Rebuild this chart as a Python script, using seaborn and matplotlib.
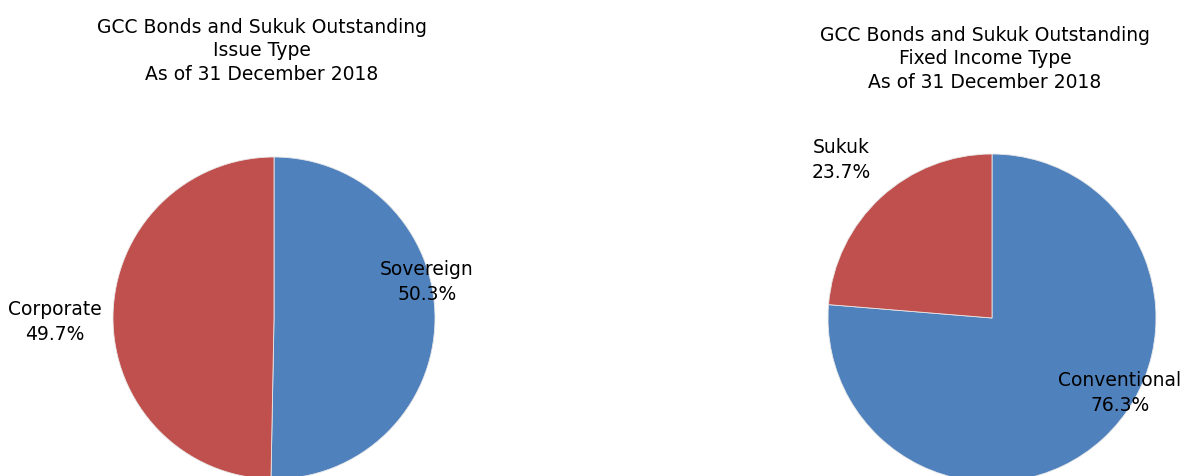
import matplotlib
matplotlib.use("Agg")
import matplotlib.pyplot as plt
import seaborn as sns

sns.set_theme(style="white")
plt.rcParams['font.family'] = ['DejaVu Sans']

# Data
issue_labels = ["Sovereign", "Corporate"]
issue_values = [50.3, 49.7]
fi_labels = ["Conventional", "Sukuk"]
fi_values = [76.3, 23.7]
colors = ["#4F81BD", "#C0504D"]

title_left = "GCC Bonds and Sukuk Outstanding\nIssue Type\nAs of 31 December 2018"
title_right = "GCC Bonds and Sukuk Outstanding\nFixed Income Type\nAs of 31 December 2018"

W, H = 1183, 477
fig = plt.figure(figsize=(W / 100, H / 100), dpi=100)
fig.patch.set_facecolor("white")

def px_axes(cx, cy, r):
    return fig.add_axes([(cx - r) / W, (H - cy - r) / H, 2 * r / W, 2 * r / H])

fs = 13.5
tc = "black"
ls_lab = 1.4

# Left pie
ax1 = px_axes(274, 319, 161)
ax1.pie(issue_values, colors=colors, startangle=90, counterclock=False,
        wedgeprops=dict(edgecolor="#E8E8E8", linewidth=0.6))
ax1.set_xlim(-1, 1); ax1.set_ylim(-1, 1); ax1.set_aspect("equal")
ax1.axis("off")
ax1.text(0.95, 0.23, f"{issue_labels[0]}\n{issue_values[0]:.1f}%", ha="center", va="center",
         fontsize=fs, color=tc, linespacing=ls_lab)
ax1.text(-1.36, -0.02, f"{issue_labels[1]}\n{issue_values[1]:.1f}%", ha="center", va="center",
         fontsize=fs, color=tc, linespacing=ls_lab, clip_on=False)

# Right pie
ax2 = px_axes(992, 319, 164)
ax2.pie(fi_values, colors=colors, startangle=90, counterclock=False,
        wedgeprops=dict(edgecolor="#E8E8E8", linewidth=0.6))
ax2.set_xlim(-1, 1); ax2.set_ylim(-1, 1); ax2.set_aspect("equal")
ax2.axis("off")
ax2.text(0.78, -0.45, f"{fi_labels[0]}\n{fi_values[0]:.1f}%", ha="center", va="center",
         fontsize=fs, color=tc, linespacing=ls_lab)
ax2.text(-0.92, 0.97, f"{fi_labels[1]}\n{fi_values[1]:.1f}%", ha="center", va="center",
         fontsize=fs, color=tc, linespacing=ls_lab, clip_on=False)

fig.text(262 / W, 1 - 51 / H, title_left, ha="center", va="center", fontsize=fs,
         color=tc, linespacing=1.3)
fig.text(985 / W, 1 - 59 / H, title_right, ha="center", va="center", fontsize=fs,
         color=tc, linespacing=1.3)

fig.savefig("out.png", dpi=100, facecolor="white")
